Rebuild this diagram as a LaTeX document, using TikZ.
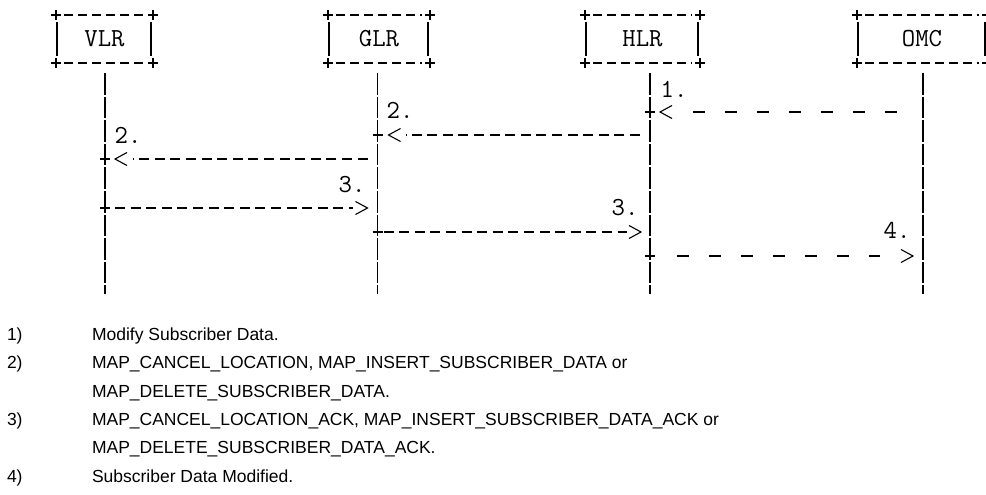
\documentclass[tikz,border=0pt]{standalone}
\usepackage{fontspec}
\setmainfont{Liberation Sans}
\begin{document}
\begin{tikzpicture}[x=1pt,y=-1pt,
  every node/.style={inner sep=0pt, outer sep=0pt},
  ascii/.style={line width=1.3pt, black},
  lifeline/.style={ascii, dash pattern=on 21.6pt off 2pt},
  boxdash/.style={ascii, dash pattern=on 9pt off 5pt},
  msgline/.style={ascii, dash pattern=on 10pt off 5.6pt},
  msgsparse/.style={ascii, dash pattern=on 12pt off 20pt},
  ttf/.style={font=\fontsize{26}{26}\selectfont\ttfamily},
  lbl/.style={ttf, anchor=base},
  legend/.style={font=\fontsize{17.5}{17.5}\selectfont, anchor=base west},
  entity/.style={ttf, minimum height=48pt},
  lhead/.pic={\draw[ascii, line width=1.1pt] (12,-6.5) -- (0,0) -- (12,6.5);},
  rhead/.pic={\draw[ascii, line width=1.1pt] (-12,-6.5) -- (0,0) -- (-12,6.5);},
]
\clip (0,0) rectangle (986,495);

% entity boxes
\node[entity, minimum width=97pt]  (vlr) at (104.5,39) {VLR};
\node[entity, minimum width=102pt] (glr) at (379,39) {GLR};
\node[entity, minimum width=115pt] (hlr) at (642.5,39) {HLR};
\node[entity, minimum width=130pt] (omc) at (922,39) {OMC};

\foreach \b/\r in {vlr/2, glr/2, hlr/2, omc/2}{
  \draw[boxdash] ([xshift=8pt]\b.north west) -- ([xshift=-8pt]\b.north east);
  \draw[boxdash] ([xshift=8pt]\b.south west) -- ([xshift=-8pt]\b.south east);
  \draw[ascii] ([xshift=1pt,yshift=-7pt]\b.north west) -- ([xshift=1pt,yshift=7pt]\b.south west);
  \draw[ascii] ([xshift=-\r pt,yshift=-7pt]\b.north east) -- ([xshift=-\r pt,yshift=7pt]\b.south east);
  \foreach \a in {north west, north east, south west, south east}{
    \draw[ascii, line width=1.1pt] ([xshift=-5pt]\b.\a) -- ([xshift=5pt]\b.\a)
                                   ([yshift=-5pt]\b.\a) -- ([yshift=5pt]\b.\a);
  }
}

% lifelines
\coordinate (vlrA) at (105,73);   \coordinate (vlrB) at (105,294);
\coordinate (glrA) at (377.5,73); \coordinate (glrB) at (377.5,294);
\coordinate (hlrA) at (650,73);   \coordinate (hlrB) at (650,294);
\coordinate (omcA) at (923,73);   \coordinate (omcB) at (923,294);
\draw[lifeline] (vlrA) -- (vlrB);
\draw[lifeline] (glrA) -- (glrB);
\draw[lifeline] (hlrA) -- (hlrB);
\draw[lifeline] (omcA) -- (omcB);

% message end points on the lifelines
\coordinate (m1o) at (923,112);   \coordinate (m1h) at (650,112);
\coordinate (m2h) at (650,135);   \coordinate (m2g) at (377.5,135);
\coordinate (m2g2) at (377.5,159); \coordinate (m2v) at (105,159);
\coordinate (m3v) at (105,208);   \coordinate (m3g) at (377.5,208);
\coordinate (m3g2) at (377.5,232); \coordinate (m3h) at (650,232);
\coordinate (m4h) at (650,256);   \coordinate (m4o) at (923,256);

% messages
\draw[msgsparse, shorten <=26pt, shorten >=43pt] (m1o) -- (m1h);
\pic at ([xshift=10pt]m1h) {lhead};
\draw[msgline, shorten <=10pt, shorten >=28pt] (m2h) -- (m2g);
\pic at ([xshift=11pt]m2g) {lhead};
\draw[msgline, shorten <=10pt, shorten >=28pt] (m2g2) -- (m2v);
\pic at ([xshift=10pt]m2v) {lhead};
\draw[msgline, shorten <=10pt, shorten >=25pt] (m3v) -- (m3g);
\pic at ([xshift=-10pt]m3g) {rhead};
\draw[msgline, shorten <=6pt, shorten >=23pt] (m3g2) -- (m3h);
\pic at ([xshift=-9pt]m3h) {rhead};
\draw[msgsparse, shorten <=27pt, shorten >=43pt] (m4h) -- (m4o);
\pic at ([xshift=-10pt]m4o) {rhead};

% plus marks where messages leave / join a lifeline
\foreach \p in {m1h, m2g, m2v, m3v, m3g2, m4h}{
  \draw[ascii, line width=1.1pt] ([xshift=-5pt]\p) -- ([xshift=5pt]\p);
}

% message labels
\node[lbl] (l1)  at (674,98)  {1.};
\node[lbl] (l2a) at (400,118) {2.};
\node[lbl] (l2b) at (128,143) {2.};
\node[lbl] (l3a) at (352,192) {3.};
\node[lbl] (l3b) at (625,215) {3.};
\node[lbl] (l4)  at (897,238) {4.};

% legend
\node[legend] (n1)  at (7,340)   {1)};
\node[legend] (t1)  at (92,340)  {Modify Subscriber Data.};
\node[legend] (n2)  at (7,368.5) {2)};
\node[legend] (t2)  at (92,368.5) {MAP\_CANCEL\_LOCATION, MAP\_INSERT\_SUBSCRIBER\_DATA or};
\node[legend] (t2b) at (92,397)  {MAP\_DELETE\_SUBSCRIBER\_DATA.};
\node[legend] (n3)  at (7,425)   {3)};
\node[legend] (t3)  at (92,425)  {MAP\_CANCEL\_LOCATION\_ACK, MAP\_INSERT\_SUBSCRIBER\_DATA\_ACK or};
\node[legend] (t3b) at (92,453.5) {MAP\_DELETE\_SUBSCRIBER\_DATA\_ACK.};
\node[legend] (n4)  at (7,482)   {4)};
\node[legend] (t4)  at (92,482)  {Subscriber Data Modified.};
\end{tikzpicture}
\end{document}
